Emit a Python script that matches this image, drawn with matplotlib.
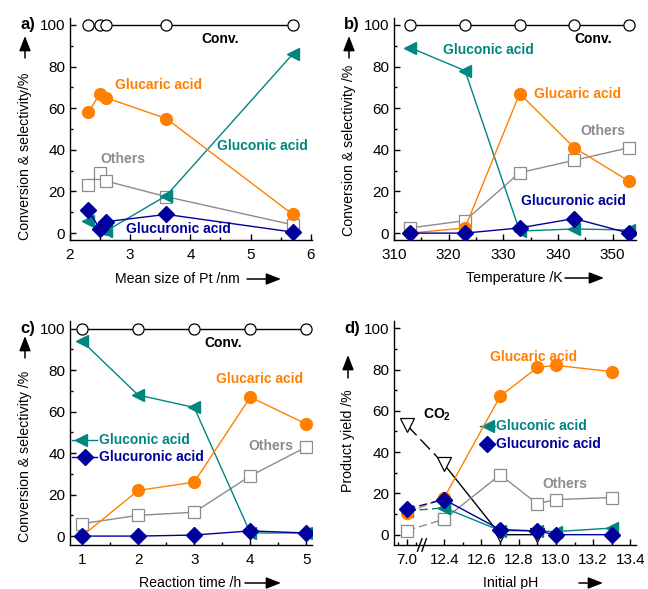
import matplotlib.pyplot as plt
import numpy as np
from matplotlib.patches import FancyArrowPatch
from matplotlib.ticker import MultipleLocator, FixedLocator

plt.rcParams['font.family'] = ['Liberation Sans', 'DejaVu Sans']
plt.rcParams['font.size'] = 9

ORANGE = '#ff8000'
TEAL = '#00857f'
NAVY = '#00009c'
GREY = '#8c8c8c'

# ---- panel a: mean size of Pt ----
size_pt = [2.3, 2.5, 2.6, 3.6, 5.7]
a_conv = [100, 100, 100, 100, 100]
a_glucaric = [58, 67, 65, 55, 9]
a_others = [23, 29, 25, 17.5, 4]
a_gluconic = [6, 2, 1, 18, 86]
a_glucuronic = [11, 2, 5.5, 9, 0.5]

# ---- panel b: temperature ----
temp_k = [313, 323, 333, 343, 353]
b_conv = [100, 100, 100, 100, 100]
b_glucaric = [0, 2.5, 67, 41, 25]
b_others = [2.5, 6, 29, 35, 41]
b_gluconic = [89, 78, 1, 2, 1.5]
b_glucuronic = [0, 0, 2.5, 7, 0]

# ---- panel c: reaction time ----
time_h = [1, 2, 3, 4, 5]
c_conv = [100, 100, 100, 100, 100]
c_glucaric = [0, 22, 26, 67, 54]
c_others = [6, 10, 11.5, 29, 43]
c_gluconic = [94, 68, 62, 1.5, 1.5]
c_glucuronic = [0, 0, 0.5, 2.5, 1.5]

# ---- panel d: initial pH (broken axis, 7.0 drawn next to 12.4) ----
ph = [7.0, 12.4, 12.7, 12.9, 13.0, 13.3]
d_glucaric = [10.5, 18, 67, 81, 82, 79]
d_others = [2, 7.5, 29, 15, 17, 18]
d_gluconic = [11.5, 13, 2, 1.8, 1.5, 3.2]
d_glucuronic = [12.5, 17, 2.5, 1.8, 0, 0]
ph_co2 = [7.0, 12.4, 12.7, 12.9]
d_co2 = [53, 34, 0, 0]
ph_ticklabels = ['7.0', '12.4', '12.6', '12.8', '13.0', '13.2', '13.4']
ph_tickvals = [7.0, 12.4, 12.6, 12.8, 13.0, 13.2, 13.4]


def ph_pos(v):
    v = np.asarray(v, dtype=float)
    return np.where(v < 12.0, 12.2, v)


W, H = 648, 589
fig = plt.figure(figsize=(W / 100, H / 100), dpi=100)


def px_axes(left, top, right, bottom):
    return fig.add_axes([left / W, 1 - bottom / H, (right - left) / W, (bottom - top) / H])


def ftext(x, y, s, **kw):
    fig.text(x / W, 1 - y / H, s, **kw)


def farrow(x0, y0, x1, y1):
    fig.add_artist(FancyArrowPatch(
        (x0 / W, 1 - y0 / H), (x1 / W, 1 - y1 / H), transform=fig.transFigure,
        arrowstyle='-|>,head_length=0.9,head_width=0.35', color='k', lw=1.1,
        mutation_scale=10, shrinkA=0, shrinkB=0))


def style(ax):
    for s in ['top', 'right']:
        ax.spines[s].set_visible(False)
    for s in ['left', 'bottom']:
        ax.spines[s].set_linewidth(1.0)
    ax.tick_params(which='both', direction='in', labelsize=11, width=1.0)
    ax.tick_params(which='major', length=4)
    ax.tick_params(which='minor', length=2.5)
    ax.yaxis.set_major_locator(MultipleLocator(20))
    ax.yaxis.set_minor_locator(MultipleLocator(10))
    ax.tick_params(axis='x', pad=6)


def series(ax, x, y, kind, ls='-'):
    if kind == 'conv':
        ax.plot(x, y, color='k', lw=1.0, ls=ls, marker='o', ms=8, mfc='white', mec='k', mew=0.9, zorder=3)
    elif kind == 'others':
        ax.plot(x, y, color=GREY, lw=1.0, ls=ls, marker='s', ms=8, mfc='white', mec=GREY, mew=0.9, zorder=4)
    elif kind == 'glucaric':
        ax.plot(x, y, color=ORANGE, lw=1.0, ls=ls, marker='o', ms=8.5, mfc=ORANGE, mec=ORANGE, zorder=6)
    elif kind == 'gluconic':
        ax.plot(x, y, color=TEAL, lw=1.0, ls=ls, marker='<', ms=9, mfc=TEAL, mec=TEAL, zorder=5)
    elif kind == 'glucuronic':
        ax.plot(x, y, color=NAVY, lw=1.0, ls=ls, marker='D', ms=8.5, mfc=NAVY, mec=NAVY, zorder=7)


bold = dict(fontweight='bold', fontsize=10)
lab = dict(fontsize=10.2, ha='center', va='center')

# panel a
ax = px_axes(70, 18, 312, 240)
style(ax)
series(ax, size_pt, a_conv, 'conv')
series(ax, size_pt, a_others, 'others')
series(ax, size_pt, a_gluconic, 'gluconic')
series(ax, size_pt, a_glucuronic, 'glucuronic')
series(ax, size_pt, a_glucaric, 'glucaric')
ax.set_xlim(2, 6.02)
ax.set_ylim(-3.3, 103.3)
ax.xaxis.set_major_locator(MultipleLocator(1))
ax.xaxis.set_minor_locator(MultipleLocator(0.5))
ax.text(4.5, 93, 'Conv.', color='k', ha='center', va='center', **bold)
ax.text(3.47, 71, 'Glucaric acid', color=ORANGE, ha='center', va='center', **bold)
ax.text(5.2, 42, 'Gluconic acid', color=TEAL, ha='center', va='center', **bold)
ax.text(2.88, 35.5, 'Others', color=GREY, ha='center', va='center', **bold)
ax.text(3.8, 2, 'Glucuronic acid', color=NAVY, ha='center', va='center', **bold)
ftext(28, 25, 'a)', fontsize=12, fontweight='bold', ha='center', va='center')
ftext(25, 156, 'Conversion & selectivity/%', rotation=90, **lab)
farrow(25, 58, 25, 36)
ftext(177, 279, 'Mean size of Pt /nm', **lab)
farrow(247, 279, 281, 279)

# panel b
ax = px_axes(394, 18, 636, 240)
style(ax)
series(ax, temp_k, b_conv, 'conv')
series(ax, temp_k, b_others, 'others')
series(ax, temp_k, b_gluconic, 'gluconic')
series(ax, temp_k, b_glucuronic, 'glucuronic')
series(ax, temp_k, b_glucaric, 'glucaric')
ax.set_xlim(310, 354.3)
ax.set_ylim(-3.3, 103.3)
ax.xaxis.set_major_locator(MultipleLocator(10))
ax.xaxis.set_minor_locator(MultipleLocator(5))
ax.text(346.5, 93, 'Conv.', color='k', ha='center', va='center', **bold)
ax.text(327.2, 87.7, 'Gluconic acid', color=TEAL, ha='center', va='center', **bold)
ax.text(343.6, 66.7, 'Glucaric acid', color=ORANGE, ha='center', va='center', **bold)
ax.text(348.3, 49, 'Others', color=GREY, ha='center', va='center', **bold)
ax.text(342.8, 15.5, 'Glucuronic acid', color=NAVY, ha='center', va='center', **bold)
ftext(352, 25, 'b)', fontsize=12, fontweight='bold', ha='center', va='center')
ftext(349, 150, 'Conversion & selectivity /%', rotation=90, **lab)
farrow(349, 58, 349, 36)
ftext(514, 278, 'Temperature /K', **lab)
farrow(565, 278, 604, 278)

# panel c
ax = px_axes(70, 321, 312, 545)
style(ax)
series(ax, time_h, c_conv, 'conv')
series(ax, time_h, c_others, 'others')
series(ax, time_h, c_glucuronic, 'glucuronic')
series(ax, time_h, c_glucaric, 'glucaric')
series(ax, time_h, c_gluconic, 'gluconic')
ax.set_xlim(0.785, 5.1)
ax.set_ylim(-4.3, 103.7)
ax.xaxis.set_major_locator(MultipleLocator(1))
ax.xaxis.set_minor_locator(MultipleLocator(0.5))
ax.text(3.52, 93, 'Conv.', color='k', ha='center', va='center', **bold)
ax.text(4.16, 75.5, 'Glucaric acid', color=ORANGE, ha='center', va='center', **bold)
ax.text(4.36, 43.5, 'Others', color=GREY, ha='center', va='center', **bold)
ax.plot([0.82, 1.27], [46.2, 46.2], color=TEAL, lw=1.0, clip_on=False)
ax.plot([0.98], [46.2], marker='<', ms=9, color=TEAL, clip_on=False)
ax.text(1.31, 46.2, 'Gluconic acid', color=TEAL, ha='left', va='center', **bold)
ax.plot([0.82, 1.27], [38, 38], color=NAVY, lw=1.0, clip_on=False)
ax.plot([1.05], [38], marker='D', ms=8.5, color=NAVY, clip_on=False)
ax.text(1.31, 38, 'Glucuronic acid', color=NAVY, ha='left', va='center', **bold)
ftext(28, 328, 'c)', fontsize=12, fontweight='bold', ha='center', va='center')
ftext(25, 456, 'Conversion & selectivity /%', rotation=90, **lab)
farrow(25, 358, 25, 336)
ftext(190, 583, 'Reaction time /h', **lab)
farrow(245, 583, 281, 583)

# panel d
ax = px_axes(394, 321, 636, 545)
style(ax)
xp = ph_pos(ph)
xc = ph_pos(ph_co2)
dash = (0, (6, 3))
for y, kind in [(d_others, 'others'), (d_gluconic, 'gluconic'),
                (d_glucuronic, 'glucuronic'), (d_glucaric, 'glucaric')]:
    series(ax, xp[:2], y[:2], kind, ls=dash)
    series(ax, xp[1:], y[1:], kind)
ax.plot(xc[:2], d_co2[:2], color='k', lw=1.0, ls=(0, (10, 4)), zorder=3)
ax.plot(xc[1:], d_co2[1:], color='k', lw=1.0, zorder=3)
ax.plot(xc, d_co2, ls='none', marker='v', ms=9.5, mfc='white', mec='k', mew=0.9, zorder=3)
ax.set_xlim(12.13, 13.43)
ax.set_ylim(-5, 103.5)
ax.xaxis.set_major_locator(FixedLocator(ph_pos(ph_tickvals)))
ax.set_xticklabels(ph_ticklabels)
ax.xaxis.set_minor_locator(FixedLocator([12.15, 12.25, 12.5, 12.7, 12.9, 13.1, 13.3]))
ax.text(12.36, 58, 'CO$_\\mathregular{2}$', color='k', ha='center', va='center', **bold)
ax.text(12.88, 86, 'Glucaric acid', color=ORANGE, ha='center', va='center', **bold)
ax.text(13.05, 24.5, 'Others', color=GREY, ha='center', va='center', **bold)
ax.plot([12.594, 12.673], [52.4, 52.4], color=TEAL, lw=1.0, clip_on=False)
ax.plot([12.634], [52.4], marker='<', ms=9, color=TEAL)
ax.text(12.68, 52.4, 'Gluconic acid', color=TEAL, ha='left', va='center', **bold)
ax.plot([12.594, 12.673], [43.7, 43.7], color=NAVY, lw=1.0, clip_on=False)
ax.plot([12.63], [43.7], marker='D', ms=8.5, color=NAVY)
ax.text(12.68, 43.7, 'Glucuronic acid', color=NAVY, ha='left', va='center', **bold)
# axis break marks
for dx in (-0.012, 0.012):
    ax.plot([12.28 + dx - 0.012, 12.28 + dx + 0.012], [-8, -2], color='k', lw=1.0, clip_on=False)
ftext(352, 328, 'd)', fontsize=12, fontweight='bold', ha='center', va='center')
ftext(348, 441, 'Product yield /%', rotation=90, **lab)
farrow(348, 378, 348, 355)
ftext(511, 583, 'Initial pH', **lab)
farrow(579, 583, 603, 583)

fig.savefig('out.png', dpi=100)
